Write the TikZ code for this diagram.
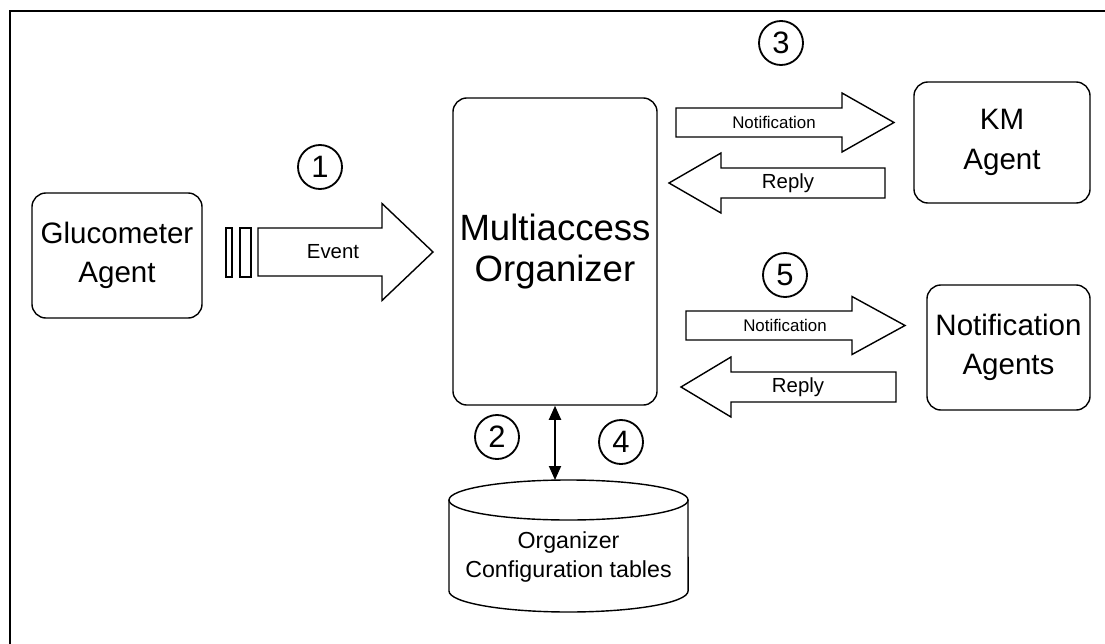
\documentclass[tikz,border=0pt]{standalone}
\usepackage{fontspec}
\setmainfont{Liberation Sans}
\usetikzlibrary{arrows.meta}

\begin{document}
\begin{tikzpicture}[x=0.025cm,y=-0.025cm,
agent/.style={draw,rounded corners=0.35cm,line width=1pt,align=center,inner sep=1pt,
  font=\fontsize{21}{28}\selectfont},
num/.style={draw,circle,line width=1.3pt,minimum size=1.1cm,inner sep=0pt,
  font=\fontsize{22}{22}\selectfont},
blk/.style={draw,line width=1pt,line join=miter},
lbl/.style={inner sep=0pt,font=\fontsize{14.5}{15}\selectfont},
small/.style={inner sep=0pt,font=\fontsize{12}{12}\selectfont}]
\useasboundingbox (0,0) rectangle (1105,644);
\draw[line width=1.3pt] (1105,11) -- (10,11) -- (10,644);

% agents and organizer
\node[agent,minimum width=4.25cm,minimum height=3.125cm] (gluc) at (117,255.5) {Glucometer\\Agent};
\node[agent,minimum width=5.1cm,minimum height=7.675cm,
  font=\fontsize{26}{29}\selectfont] (mo) at (555,251.5) {Multiaccess\\Organizer};
\node[agent,minimum width=4.4cm,minimum height=3.025cm] (km) at (1002,142.5) {KM\\Agent};
\node[agent,minimum width=4.075cm,minimum height=3.125cm] (na) at (1008.5,347.5) {Notification\\Agents};

% queue bars in front of the event arrow
\draw[blk] (226,228) rectangle (232,277) (240,228) rectangle (251,277);

% block arrows: tail x / head base x / tip x / centre y / half body / half head
\foreach \ta/\hb/\tip/\yc/\bw/\hw in {258/382/433/252/24/48.5,
  676/842/894/122.5/14.5/29.5, 885/721/669/183/15/30,
  686/852/905/325.5/14.5/29, 896/731/681/387/15/30}
  \draw[blk] (\ta,\yc-\bw) -- (\hb,\yc-\bw) -- (\hb,\yc-\hw) -- (\tip,\yc)
    -- (\hb,\yc+\hw) -- (\hb,\yc+\bw) -- (\ta,\yc+\bw) -- cycle;
\node[lbl] (ev) at (333,252) {Event};
\node[small] (n3) at (774,122.5) {Notification};
\node[lbl] (r3) at (788,183) {Reply};
\node[small] (n5) at (785,325.5) {Notification};
\node[lbl] (r5) at (798,387) {Reply};

% step numbers
\foreach \n/\x/\y in {1/320/167, 2/497/437, 3/781/43, 4/621/442, 5/785/275}
  \node[num] (c\n) at (\x,\y) {\n};

% configuration tables
\coordinate (dbtop) at (568.5,480);
\draw[blk] (568.5,500) ellipse (2.9875cm and 0.5cm);
\draw[blk] (449,500) -- (449,591) arc (180:360:2.9875cm and 0.525cm) -- (688,500);
\node[align=center,font=\fontsize{16.5}{20.5}\selectfont] (cfg) at (568.5,557)
  {Organizer\\Configuration tables};
\draw[{Triangle[length=0.35cm,width=0.3cm]}-{Triangle[length=0.35cm,width=0.3cm]},line width=1.3pt]
  (mo.south) -- (mo.south |- dbtop);
\end{tikzpicture}
\end{document}
